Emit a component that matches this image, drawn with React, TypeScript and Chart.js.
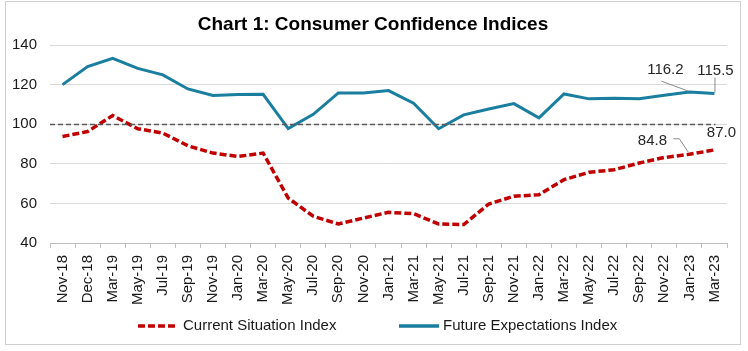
import React, { useEffect, useRef } from "react";
import { Chart, registerables } from "chart.js";

Chart.register(...registerables);

const categories = [
  "Nov-18", "Dec-18", "Mar-19", "May-19", "Jul-19", "Sep-19", "Nov-19", "Jan-20", "Mar-20",
  "May-20", "Jul-20", "Sep-20", "Nov-20", "Jan-21", "Mar-21", "May-21", "Jul-21", "Sep-21",
  "Nov-21", "Jan-22", "Mar-22", "May-22", "Jul-22", "Sep-22", "Nov-22", "Jan-23", "Mar-23",
];

const currentSituation = [
  93.8, 96.3, 104.4, 97.7, 95.5, 89.1, 85.4, 83.7, 85.4,
  62.7, 53.5, 49.6, 52.6, 55.5, 54.8, 49.6, 49.3, 59.7,
  63.6, 64.4, 72.0, 75.7, 77.0, 80.4, 83.2, 84.8, 87.0,
];

const futureExpectations = [
  120.0, 129.1, 133.3, 128.2, 124.9, 117.8, 114.5, 115.0, 115.1,
  97.8, 105.0, 115.8, 115.8, 117.0, 110.6, 97.7, 104.7, 107.7,
  110.4, 103.2, 115.3, 112.8, 113.1, 112.8, 114.6, 116.2, 115.5,
];

const referenceValue = 100;
const yTicks = [40, 60, 80, 100, 120, 140];
const titleText = "Chart 1: Consumer Confidence Indices";
const seriesNames = ["Current Situation Index", "Future Expectations Index"];

const RED = "#C00000";
const BLUE = "#1A7E9F";
const FONT = "Arial, 'Liberation Sans', sans-serif";

const decorPlugin = {
  id: "decor",
  beforeDraw(chart: any) {
    const ctx = chart.ctx;
    ctx.save();
    ctx.fillStyle = "#ffffff";
    ctx.fillRect(0, 0, chart.width, chart.height);
    ctx.strokeStyle = "#d0d0d0";
    ctx.lineWidth = 1;
    ctx.strokeRect(5.5, 1.5, 735, 343);
    ctx.restore();
  },
  afterDatasetsDraw(chart: any) {
    const ctx = chart.ctx;
    const x = chart.scales.x;
    const y = chart.scales.y;
    const area = chart.chartArea;
    ctx.save();
    const ry = Math.round(y.getPixelForValue(referenceValue)) + 0.5;
    ctx.strokeStyle = "#595959";
    ctx.lineWidth = 1.5;
    ctx.setLineDash([5, 3]);
    ctx.beginPath();
    ctx.moveTo(area.left, ry);
    ctx.lineTo(x.getPixelForValue(categories.length - 1) + 1, ry);
    ctx.stroke();
    ctx.setLineDash([]);
    ctx.restore();
  },
  afterDraw(chart: any) {
    const ctx = chart.ctx;
    const x = chart.scales.x;
    const y = chart.scales.y;
    const n = categories.length;
    ctx.save();
    // title
    ctx.fillStyle = "#000";
    ctx.font = `bold 19px ${FONT}`;
    ctx.textAlign = "center";
    ctx.textBaseline = "alphabetic";
    ctx.fillText(titleText, 373, 30);

    // data labels
    ctx.font = `15px ${FONT}`;
    ctx.fillStyle = "#262626";
    ctx.strokeStyle = "#8c8c8c";
    ctx.lineWidth = 1;
    const xa = x.getPixelForValue(n - 2);
    const xb = x.getPixelForValue(n - 1);
    const fa = y.getPixelForValue(futureExpectations[n - 2]);
    const fb = y.getPixelForValue(futureExpectations[n - 1]);
    const ca = y.getPixelForValue(currentSituation[n - 2]);
    const cb = y.getPixelForValue(currentSituation[n - 1]);
    ctx.textBaseline = "middle";
    ctx.textAlign = "center";
    ctx.fillText(futureExpectations[n - 2].toFixed(1), xa - 24, fa - 22);
    ctx.fillText(futureExpectations[n - 1].toFixed(1), xb + 1, fb - 23);
    ctx.fillText(currentSituation[n - 2].toFixed(1), xa - 37, ca - 13);
    ctx.fillText(currentSituation[n - 1].toFixed(1), xb + 7, cb - 17);
    ctx.beginPath();
    ctx.moveTo(xa - 28, fa - 11);
    ctx.lineTo(xa - 1, fa - 1);
    ctx.moveTo(xb + 0.5, fb - 16);
    ctx.lineTo(xb + 0.5, fb - 1);
    ctx.moveTo(xa - 16, ca - 15.5);
    ctx.lineTo(xa - 10, ca - 15.5);
    ctx.lineTo(xa - 1, ca - 2);
    ctx.stroke();

    // legend
    const ly = 326;
    ctx.lineWidth = 3.5;
    ctx.strokeStyle = RED;
    ctx.setLineDash([7, 3]);
    ctx.beginPath();
    ctx.moveTo(138, ly);
    ctx.lineTo(178, ly);
    ctx.stroke();
    ctx.setLineDash([]);
    ctx.strokeStyle = BLUE;
    ctx.lineWidth = 3.5;
    ctx.beginPath();
    ctx.moveTo(399, ly);
    ctx.lineTo(439, ly);
    ctx.stroke();
    ctx.fillStyle = "#1a1a1a";
    ctx.textAlign = "left";
    ctx.font = `15px ${FONT}`;
    ctx.fillText(seriesNames[0], 183, ly);
    ctx.fillText(seriesNames[1], 443, ly);
    ctx.restore();
  },
};

export default function App() {
  const ref = useRef<HTMLCanvasElement | null>(null);
  useEffect(() => {
    document.body.style.margin = "0";
    const canvas = ref.current;
    if (!canvas) return;
    const chart = new Chart(canvas, {
      type: "line",
      data: {
        labels: categories,
        datasets: [
          {
            label: seriesNames[0],
            data: currentSituation,
            borderColor: RED,
            backgroundColor: RED,
            borderWidth: 3.5,
            borderDash: [7, 3],
            pointRadius: 0,
            tension: 0,
          },
          {
            label: seriesNames[1],
            data: futureExpectations,
            borderColor: BLUE,
            backgroundColor: BLUE,
            borderWidth: 3,
            pointRadius: 0,
            tension: 0,
          },
        ],
      },
      options: {
        animation: false,
        responsive: false,
        maintainAspectRatio: false,
        devicePixelRatio: 1,
        layout: { padding: { top: 45, right: 21, bottom: 0, left: 0 } },
        plugins: {
          legend: { display: false },
          title: { display: false },
          tooltip: { enabled: false },
        },
        scales: {
          x: {
            offset: true,
            grid: {
              offset: true,
              drawOnChartArea: false,
              drawTicks: true,
              tickLength: 5,
              color: "#bfbfbf",
            },
            border: { display: true, color: "#bfbfbf", width: 1 },
            ticks: {
              autoSkip: false,
              maxRotation: 90,
              minRotation: 90,
              padding: 7,
              color: "#1a1a1a",
              font: { family: FONT, size: 15 },
            },
            afterFit(scale: any) {
              scale.height = 108;
            },
          },
          y: {
            min: 40,
            max: 140,
            afterBuildTicks(scale: any) {
              scale.ticks = yTicks.map((v) => ({ value: v }));
            },
            grid: { color: "#d9d9d9", drawTicks: false, lineWidth: 1 },
            border: { display: false },
            ticks: {
              padding: 13,
              color: "#1a1a1a",
              font: { family: FONT, size: 15 },
            },
            afterFit(scale: any) {
              scale.width = 50;
            },
          },
        },
      },
      plugins: [decorPlugin],
    });
    return () => chart.destroy();
  }, []);
  return (
    <div style={{ position: "absolute", left: 0, top: 0, width: 748, height: 351 }}>
      <canvas ref={ref} width={748} height={351} style={{ width: 748, height: 351, display: "block" }} />
    </div>
  );
}
